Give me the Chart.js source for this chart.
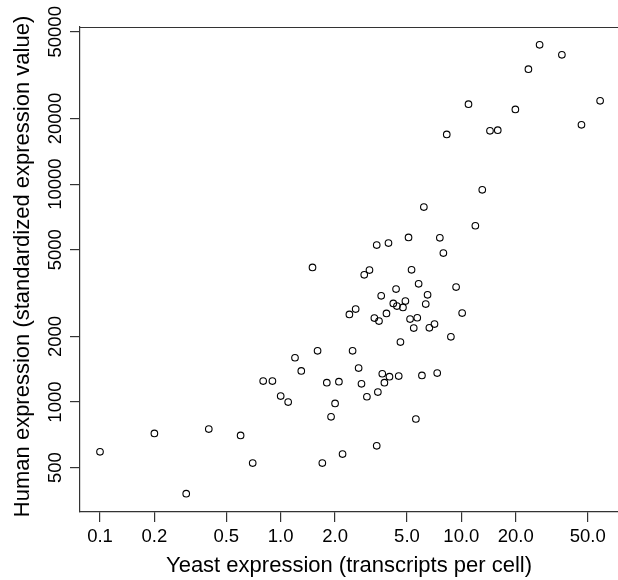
<!DOCTYPE html>
<html>
<head>
<meta charset="utf-8">
<script src="https://cdn.jsdelivr.net/npm/chart.js@4"></script>
<style>
  html, body { margin: 0; padding: 0; background: #fff; overflow: hidden; }
  #c { display: block; }
</style>
</head>
<body>
<canvas id="c" width="618" height="580"></canvas>
<script>
// Yeast expression (transcripts per cell)
const yeastExpression = [
  0.1, 0.2, 0.3, 0.4, 0.6, 0.7, 0.8, 0.9, 1.0, 1.1, 1.2, 1.3,
  1.5, 1.6, 1.7, 1.8, 1.9, 2.0, 2.1, 2.2,
  2.4, 2.5, 2.6, 2.7, 2.8, 2.9, 3.0, 3.1,
  3.3, 3.4, 3.4, 3.45, 3.5, 3.6, 3.65, 3.75, 3.85, 3.95,
  4.0, 4.2, 4.35, 4.4, 4.5, 4.6, 4.75, 4.9,
  5.1, 5.2, 5.3, 5.45, 5.6, 5.7, 5.8,
  6.05, 6.2, 6.35, 6.5, 6.65,
  7.1, 7.35, 7.6, 7.95,
  8.3, 8.75, 9.35,
  10.1, 10.95, 11.95, 13.05, 14.4, 15.9, 19.9,
  23.5, 27.1, 36.0, 46.2, 58.6
];
// Human expression (standardized expression value)
const humanExpression = [
  591, 718, 380, 752, 703, 525, 1248, 1248, 1065, 1000, 1597, 1390,
  4148, 1719, 525, 1227, 856, 986, 1240, 577,
  2525, 1719, 2671, 1432, 1213, 3837, 1058, 4032,
  2428, 5251, 630, 1111, 2353, 3073, 1349, 1227, 2551, 5362,
  1307, 2836, 3299, 2757, 1316, 1884, 2719, 2906,
  5694, 2403, 4045, 2185, 836, 2437, 3488,
  1325, 7845, 2816, 3106, 2192,
  2279, 1358, 5672, 4825,
  16900, 1993, 3370,
  2560, 23280, 6441, 9416, 17560, 17690, 22010,
  33700, 43550, 39190, 18710, 24100
];

const xTickValues = [0.1, 0.2, 0.5, 1, 2, 5, 10, 20, 50];
const xTickLabels = ['0.1', '0.2', '0.5', '1.0', '2.0', '5.0', '10.0', '20.0', '50.0'];
const yTickValues = [500, 1000, 2000, 5000, 10000, 20000, 50000];
const yTickLabels = ['500', '1000', '2000', '5000', '10000', '20000', '50000'];

const xRange = [0.0775, 73.6];
const yRange = [313, 52600];

const xTitle = 'Yeast expression (transcripts per cell)';
const yTitle = ' Human expression (standardized expression value)';

const points = yeastExpression.map((x, i) => ({ x: x, y: humanExpression[i] }));

const FONT = "'Liberation Sans', Arial, Helvetica, sans-serif";
const INK = '#000';
const LINE = '#333';

const topFrame = {
  id: 'topFrame',
  afterDraw(chart) {
    const { ctx, chartArea } = chart;
    ctx.save();
    ctx.strokeStyle = LINE;
    ctx.lineWidth = 1.2;
    ctx.beginPath();
    ctx.moveTo(chartArea.left, chartArea.top + 0.5);
    ctx.lineTo(chartArea.right + 5, chartArea.top + 0.5);
    ctx.stroke();
    ctx.restore();
  }
};

new Chart(document.getElementById('c'), {
  type: 'scatter',
  data: {
    datasets: [{
      data: points,
      pointStyle: 'circle',
      pointRadius: 3.3,
      pointBorderWidth: 1.1,
      borderColor: INK,
      backgroundColor: 'rgba(0,0,0,0)',
      pointBackgroundColor: 'rgba(0,0,0,0)',
      pointBorderColor: INK,
      clip: false
    }]
  },
  plugins: [topFrame],
  options: {
    responsive: false,
    animation: false,
    events: [],
    layout: { autoPadding: false, padding: { top: 27, left: 0, right: 0, bottom: 0 } },
    plugins: {
      legend: { display: false },
      tooltip: { enabled: false }
    },
    scales: {
      x: {
        type: 'logarithmic',
        position: 'bottom',
        min: xRange[0],
        max: xRange[1],
        bounds: 'data',
        afterBuildTicks(scale) { scale.ticks = xTickValues.map(v => ({ value: v })); },
        afterFit(scale) { scale.height = 68; },
        ticks: {
          autoSkip: false,
          maxRotation: 0,
          minRotation: 0,
          padding: 4,
          color: INK,
          font: { family: FONT, size: 18.5 },
          callback: (v) => { const k = xTickValues.indexOf(v); return k >= 0 ? xTickLabels[k] : ''; }
        },
        grid: { drawOnChartArea: false, drawTicks: true, tickLength: 10, color: LINE, lineWidth: 1.2 },
        border: { display: true, color: LINE, width: 1.2 },
        title: {
          display: true,
          text: xTitle,
          color: INK,
          font: { family: FONT, size: 22 },
          padding: { top: 0, bottom: 1 }
        }
      },
      y: {
        type: 'logarithmic',
        position: 'left',
        min: yRange[0],
        max: yRange[1],
        bounds: 'data',
        afterBuildTicks(scale) { scale.ticks = yTickValues.map(v => ({ value: v })); },
        afterFit(scale) { scale.width = 80; },
        ticks: {
          autoSkip: false,
          minRotation: 90,
          maxRotation: 90,
          crossAlign: 'center',
          padding: -12,
          color: INK,
          font: { family: FONT, size: 18.5 },
          callback: (v) => { const k = yTickValues.indexOf(v); return k >= 0 ? yTickLabels[k] : ''; }
        },
        grid: { drawOnChartArea: false, drawTicks: true, tickLength: 10, color: LINE, lineWidth: 1.2 },
        border: { display: true, color: LINE, width: 1.2 },
        title: {
          display: true,
          text: yTitle,
          color: INK,
          font: { family: FONT, size: 22 },
          padding: { top: 10, bottom: 0 }
        }
      }
    }
  }
});
</script>
</body>
</html>
